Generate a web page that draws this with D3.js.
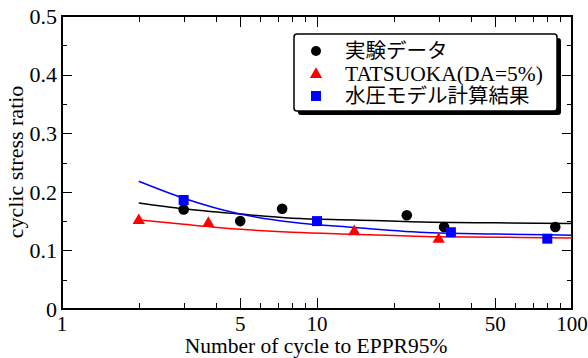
<html>

<head>
  <meta charset="utf8">
  <title>cyclic stress ratio</title>
  <style>
    * {
      margin: 0;
      padding: 0;
    }
    body {
      background: #fff;
    }
    text {
      font-family: 'Liberation Serif', 'Times New Roman', serif;
    }
  </style>
</head>

<body>
  <script src="https://cdn.jsdelivr.net/npm/d3@7/dist/d3.min.js"></script>
  <script>
    var w = 588
    var h = 358

    // measured points
    var expN = [3, 5, 7.3, 22.5, 31.5, 86]
    var expCSR = [0.17, 0.15, 0.171, 0.16, 0.14, 0.14]
    var tatN = [2, 3.75, 14, 30]
    var tatCSR = [0.151, 0.146, 0.132, 0.119]
    var modelN = [3, 10, 33.5, 80]
    var modelCSR = [0.186, 0.15, 0.131, 0.12]

    // fitted curves
    var curveN = [2, 3, 5, 8, 14, 28, 50, 100]
    var expFit = [0.181, 0.171, 0.162, 0.155, 0.152, 0.148, 0.147, 0.146]
    var tatFit = [0.152, 0.1445, 0.136, 0.131, 0.1275, 0.1235, 0.1225, 0.121]
    var modelFit = [0.218, 0.189, 0.162, 0.148, 0.139, 0.130, 0.128, 0.126]

    var xLabels = [1, 5, 10, 50, 100]
    var yLabels = [0, 0.1, 0.2, 0.3, 0.4, 0.5]
    var legendLabels = ['実験データ', 'TATSUOKA(DA=5%)', '水圧モデル計算結果']

    var plotL = 62, plotR = 572, plotT = 16, plotB = 309

    var xScale = d3.scaleLog().domain([1, 100]).range([plotL, plotR])
    var yScale = d3.scaleLinear().domain([0, 0.5]).range([plotB, plotT])

    var svg = d3.select('body').append('svg').attr('width', w).attr('height', h)

    function zip(a, b) {
      return a.map((d, i) => [d, b[i]])
    }

    // x ticks (inward, top and bottom)
    var xMinor = []
    for (var dec = 1; dec < 100; dec *= 10) {
      for (var k = 2; k <= 9; k++) xMinor.push(k * dec)
    }
    var xMajor = [1, 5, 10, 50, 100]

    var ticks = svg.append('g').attr('stroke', '#000').attr('stroke-width', 1)
    xMinor.concat(xMajor).forEach(v => {
      var len = xMajor.indexOf(v) >= 0 ? 11 : 6
      var x = Math.round(xScale(v)) + 0.5
      ticks.append('line').attr('x1', x).attr('x2', x).attr('y1', plotB).attr('y2', plotB - len)
      ticks.append('line').attr('x1', x).attr('x2', x).attr('y1', plotT).attr('y2', plotT + len)
    })
    d3.range(0, 0.501, 0.05).forEach((v, i) => {
      var len = i % 2 === 0 ? 10 : 5
      var y = Math.round(yScale(v)) + 0.5
      ticks.append('line').attr('x1', plotL).attr('x2', plotL + len).attr('y1', y).attr('y2', y)
      ticks.append('line').attr('x1', plotR).attr('x2', plotR - len).attr('y1', y).attr('y2', y)
    })

    // frame
    svg.append('rect')
      .attr('x', plotL).attr('y', plotT)
      .attr('width', plotR - plotL).attr('height', plotB - plotT)
      .attr('fill', 'none').attr('stroke', '#000').attr('stroke-width', 2)

    // tick labels
    svg.selectAll('.xl')
      .data(xLabels)
      .enter()
      .append('text')
      .attr('x', d => xScale(d))
      .attr('y', 331)
      .attr('text-anchor', 'middle')
      .attr('font-size', '21px')
      .text(d => d)

    svg.selectAll('.yl')
      .data(yLabels)
      .enter()
      .append('text')
      .attr('x', 57)
      .attr('y', d => yScale(d))
      .attr('dy', '0.35em')
      .attr('text-anchor', 'end')
      .attr('font-size', '22px')
      .text(d => d === 0 ? '0' : d.toFixed(1))

    // axis titles
    svg.append('text')
      .attr('x', 316).attr('y', 353)
      .attr('text-anchor', 'middle')
      .attr('font-size', '21.5px')
      .text('Number of cycle to EPPR95%')

    svg.append('text')
      .attr('transform', 'translate(23,162) rotate(-90)')
      .attr('text-anchor', 'middle')
      .attr('font-size', '22px')
      .text('cyclic stress ratio')

    // curves
    var line = d3.line()
      .x(d => xScale(d[0]))
      .y(d => yScale(d[1]))
      .curve(d3.curveMonotoneX)

    var fits = [[expFit, '#000'], [tatFit, '#ff0000'], [modelFit, '#0000ff']]
    fits.forEach(f => {
      svg.append('path')
        .attr('d', line(zip(curveN, f[0])))
        .attr('fill', 'none')
        .attr('stroke', f[1])
        .attr('stroke-width', 1.5)
    })

    // markers
    var tri = d3.symbol().type(d3.symbolTriangle).size(66)

    svg.selectAll('.exp')
      .data(zip(expN, expCSR))
      .enter()
      .append('circle')
      .attr('cx', d => xScale(d[0]))
      .attr('cy', d => yScale(d[1]))
      .attr('r', 5.3)
      .attr('fill', '#000')

    svg.selectAll('.tat')
      .data(zip(tatN, tatCSR))
      .enter()
      .append('path')
      .attr('d', tri)
      .attr('transform', d => 'translate(' + xScale(d[0]) + ',' + yScale(d[1]) + ')')
      .attr('fill', '#ff0000')

    svg.selectAll('.mod')
      .data(zip(modelN, modelCSR))
      .enter()
      .append('rect')
      .attr('x', d => xScale(d[0]) - 5)
      .attr('y', d => yScale(d[1]) - 5)
      .attr('width', 10)
      .attr('height', 10)
      .attr('fill', '#0000ff')

    // legend
    var lg = svg.append('g')
    lg.append('rect')
      .attr('x', 298).attr('y', 38).attr('width', 263).attr('height', 77)
      .attr('rx', 3).attr('fill', '#000')
    lg.append('rect')
      .attr('x', 294).attr('y', 34).attr('width', 263).attr('height', 77)
      .attr('rx', 3).attr('fill', '#fff').attr('stroke', '#000').attr('stroke-width', 1.5)

    var rowY = [51, 73.5, 96]
    lg.append('circle').attr('cx', 316).attr('cy', rowY[0]).attr('r', 5).attr('fill', '#000')
    lg.append('path').attr('d', tri).attr('transform', 'translate(316,' + (rowY[1] + 1) + ')').attr('fill', '#ff0000')
    lg.append('rect').attr('x', 311).attr('y', rowY[2] - 5).attr('width', 10).attr('height', 10).attr('fill', '#0000ff')

    lg.selectAll('.lt')
      .data(legendLabels)
      .enter()
      .append('text')
      .attr('x', 345)
      .attr('y', (d, i) => rowY[i])
      .attr('dy', '0.35em')
      .attr('font-size', (d, i) => i === 1 ? '21.5px' : '20.5px')
      .style('font-family', (d, i) => i === 1 ? "'Liberation Serif', serif" : "'Noto Sans CJK JP', sans-serif")
      .text(d => d)
  </script>
</body>

</html>
